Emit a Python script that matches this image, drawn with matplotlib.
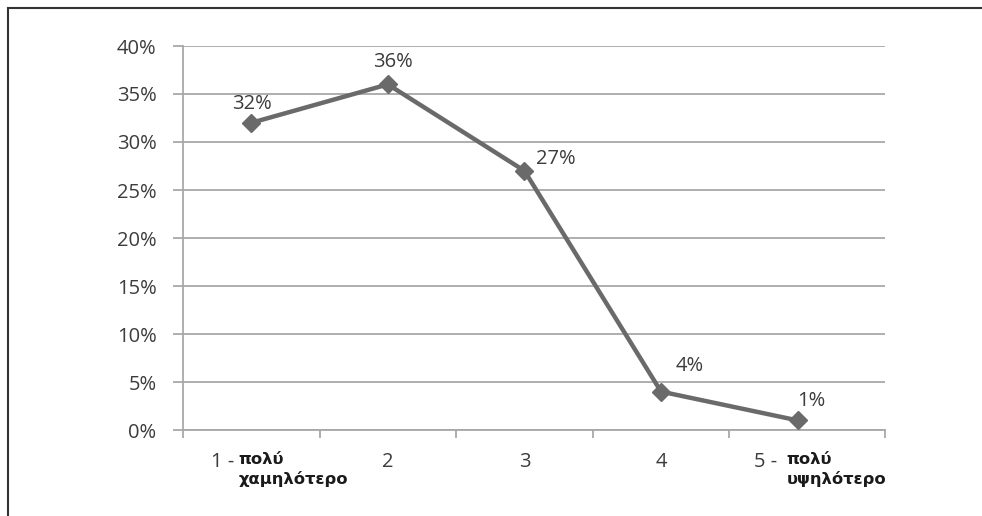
import matplotlib
matplotlib.use("Agg")
import matplotlib.pyplot as plt
from matplotlib.lines import Line2D
from matplotlib.ticker import FuncFormatter, FixedLocator
from matplotlib.transforms import offset_copy, blended_transform_factory

# rating scale 1..5 and share of answers
levels = ["1", "2", "3", "4", "5"]
shares = [0.32, 0.36, 0.27, 0.04, 0.01]
value_labels = ["32%", "36%", "27%", "4%", "1%"]
# end-of-scale descriptions
end_words = {0: "πολύ\nχαμηλότερο", 4: "πολύ\nυψηλότερο"}
# label offsets in pixels (dx, dy) from each marker
label_offsets = [(1, 19), (5, 22), (31, 12), (29, 26), (14, 19)]

plt.rcParams["font.family"] = ["Open Sans", "DejaVu Sans"]
FS = 14.5

DPI = 100
fig = plt.figure(figsize=(9.82, 5.16), dpi=DPI)
ax = fig.add_axes([183 / 982, 86 / 516, (885 - 183) / 982, (430 - 46) / 516])

line_col = "#6a6a6a"
grid_col = "#a8a8a8"
text_col = "#3c3c3c"

x = list(range(len(levels)))
ax.plot(x, shares, color=line_col, lw=3.2, marker="D", markersize=9,
        solid_joinstyle="miter", zorder=3)

ax.set_xlim(-0.5, 4.64)
ax.set_ylim(0, 0.40)
ax.set_yticks([i * 0.05 for i in range(9)])
ax.yaxis.set_major_formatter(FuncFormatter(lambda v, p: f"{v * 100:.0f}%"))
ax.yaxis.grid(True, color=grid_col, lw=1.3)
ax.set_axisbelow(True)

for s in ["top", "right"]:
    ax.spines[s].set_visible(False)
for s in ["left", "bottom"]:
    ax.spines[s].set_color(grid_col)
    ax.spines[s].set_linewidth(1.3)

ax.tick_params(axis="y", length=7, width=1.3, color=grid_col, labelsize=FS,
               labelcolor=text_col, pad=12)
# category boundary ticks on the x axis, no labels from the axis itself
ax.xaxis.set_major_locator(FixedLocator([-0.5, 0.5, 1.5, 2.5, 3.5, 4.64]))
ax.tick_params(axis="x", length=6, width=1.3, color=grid_col, labelbottom=False)

# value labels above the markers
for xi, yi, lab, (dx, dy) in zip(x, shares, value_labels, label_offsets):
    tr = offset_copy(ax.transData, fig=fig, x=dx * 72 / DPI, y=dy * 72 / DPI, units="points")
    ax.text(xi, yi, lab, transform=tr, ha="center", va="center",
            fontsize=FS, color=text_col)

# category labels under the axis
base = blended_transform_factory(ax.transData, ax.transAxes)
for xi, lev in zip(x, levels):
    if xi in end_words:
        dx_num = -17 if xi == 0 else -20
        dx_word = -13 if xi == 0 else -11
        tr = offset_copy(base, fig=fig, x=dx_num * 72 / DPI, y=-32 * 72 / DPI, units="points")
        ax.text(xi, 0, lev + " -", transform=tr, ha="right", va="center",
                fontsize=FS, color=text_col)
        tr = offset_copy(base, fig=fig, x=dx_word * 72 / DPI, y=-22 * 72 / DPI, units="points")
        ax.text(xi, 0, end_words[xi], transform=tr, ha="left", va="top",
                fontsize=11.8, fontweight="bold", color="#1a1a1a",
                family="DejaVu Sans", linespacing=1.3)
    else:
        tr = offset_copy(base, fig=fig, x=0, y=-32 * 72 / DPI, units="points")
        ax.text(xi, 0, lev, transform=tr, ha="center", va="center",
                fontsize=FS, color=text_col)

# frame lines along the top and left edges
fig.add_artist(Line2D([8 / 982, 8 / 982], [0, 1 - 8 / 516], transform=fig.transFigure,
                      color="#333333", lw=1.5))
fig.add_artist(Line2D([8 / 982, 1], [1 - 8 / 516, 1 - 8 / 516], transform=fig.transFigure,
                      color="#333333", lw=1.5))

fig.savefig("out.png", dpi=DPI, facecolor="white")
